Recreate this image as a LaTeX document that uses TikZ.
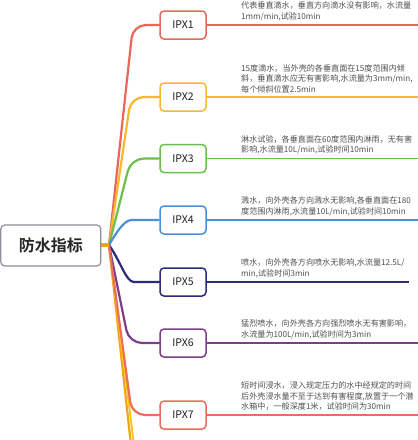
\documentclass[tikz,border=0pt]{standalone}
\usepackage{fontspec}
\setmainfont{Noto Sans CJK SC}
\newfontfamily\cjk{Noto Sans CJK SC}
\newfontfamily\cjkbold{Noto Sans CJK SC Bold}
\definecolor{cA}{HTML}{E8675B}
\definecolor{cB}{HTML}{F5B82E}
\definecolor{cC}{HTML}{6BBF4E}
\definecolor{cD}{HTML}{4A8FD8}
\definecolor{cE}{HTML}{2D2A78}
\definecolor{cF}{HTML}{7A3E8A}
\definecolor{cG}{HTML}{EE6C5C}
\definecolor{cH}{HTML}{F7A21B}
\definecolor{cI}{HTML}{F9C80E}
\definecolor{rootgray}{HTML}{8A8F99}
\definecolor{txtgray}{HTML}{505050}
\begin{document}
\begin{tikzpicture}[x=1pt,y=-1pt,
  rootbox/.style={draw=rootgray,line width=1.2pt,rounded corners=4pt,fill=white,minimum width=100pt,minimum height=41pt,inner sep=0pt,font=\cjkbold\fontsize{16}{18}\selectfont,text=black!85},
  ipxbox/.style={draw=#1,line width=1.5pt,rounded corners=4pt,fill=white,minimum width=46pt,minimum height=28pt,inner sep=0pt,font=\cjk\fontsize{10.5}{12}\selectfont,text=black!88},
  branch/.style={draw=#1,line width=2.2pt,line cap=round,rounded corners=13pt},
  under/.style={draw=#1,line width=1.2pt},
  desc/.style={anchor=south west,align=left,inner sep=0pt,text=txtgray,font=\cjk\fontsize{8.1}{10.5}\selectfont}
]
\useasboundingbox (0,0) rectangle (418,440);
\fill[white] (0,0) rectangle (418,440);
% junction
\coordinate (J) at (109,245);
% lower continuing branches (cut off)
\coordinate (e1) at (131,445);
\coordinate (e2) at (134,445);
\draw[branch=cH] (J) -- (e1);
\draw[branch=cI,line width=1.8pt] (J) -- (e2);
% boxes
\node[ipxbox=cA] (p1) at (183,25) {IPX1};
\node[ipxbox=cB] (p2) at (183,97) {IPX2};
\node[ipxbox=cC] (p3) at (183,158.5) {IPX3};
\node[ipxbox=cD] (p4) at (183,220) {IPX4};
\node[ipxbox=cE] (p5) at (183,282) {IPX5};
\node[ipxbox=cF] (p6) at (183,343) {IPX6};
\node[ipxbox=cG] (p7) at (183,415) {IPX7};
% branches
\draw[branch=cA] (J) -- (133,25) -- (p1.west);
\draw[branch=cB] (J) -- (131,97) -- (p2.west);
\draw[branch=cC] (J) -- (131,158.5) -- (p3.west);
\draw[branch=cD,line cap=butt] (J) .. controls (120,226) and (126,220) .. (145,220) -- (p4.west);
\draw[branch=cE,line cap=butt] (J) .. controls (121,262) and (126,282) .. (147,282) -- (p5.west);
\draw[branch=cF] (J) -- (129,343) -- (p6.west);
\draw[branch=cG] (J) -- (132,415) -- (p7.west);
% root
\draw[cH,line width=4pt] (101,245) -- (J);
\node[rootbox] (root) at (50.8,245.5) {防水指标};
% underlines
\coordinate (q1) at (418,25);
\coordinate (q2) at (418,97);
\coordinate (q3) at (418,158.5);
\coordinate (q4) at (418,220);
\coordinate (q5) at (409,282);
\coordinate (q6) at (418,343);
\coordinate (q7) at (418,415);
\draw[under=cA] (p1.east) -- (q1);
\draw[under=cB] (p2.east) -- (q2);
\draw[under=cC] (p3.east) -- (q3);
\draw[under=cD] (p4.east) -- (q4);
\draw[under=cE] (p5.east) -- (q5);
\draw[under=cF] (p6.east) -- (q6);
\draw[under=cG] (p7.east) -- (q7);
% descriptions
\node[desc] (t1) at (241,21) {代表垂直滴水，垂直方向滴水没有影响，水流量\\1mm/min,试验10min};
\node[desc] (t2) at (241,93) {15度滴水，当外壳的各垂直面在15度范围内倾\\斜，垂直滴水应无有害影响,水流量为3mm/min,\\每个倾斜位置2.5min};
\node[desc] (t3) at (241,154.5) {淋水试验，各垂直面在60度范围内淋雨，无有害\\影响,水流量10L/min,试验时间10min};
\node[desc] (t4) at (241,216) {溅水，向外壳各方向溅水无影响,各垂直面在180\\度范围内淋雨,水流量10L/min,试验时间10min};
\node[desc] (t5) at (241,278) {喷水，向外壳各方向喷水无影响,水流量12.5L/\\min,试验时间3min};
\node[desc] (t6) at (241,339) {猛烈喷水，向外壳各方向强烈喷水无有害影响，\\水流量为100L/min,试验时间为3min};
\node[desc] (t7) at (241,411) {短时间浸水，浸入规定压力的水中经规定的时间\\后外壳浸水量不至于达到有害程度,放置于一个潜\\水箱中，一般深度1米，试验时间为30min};
\end{tikzpicture}
\end{document}
